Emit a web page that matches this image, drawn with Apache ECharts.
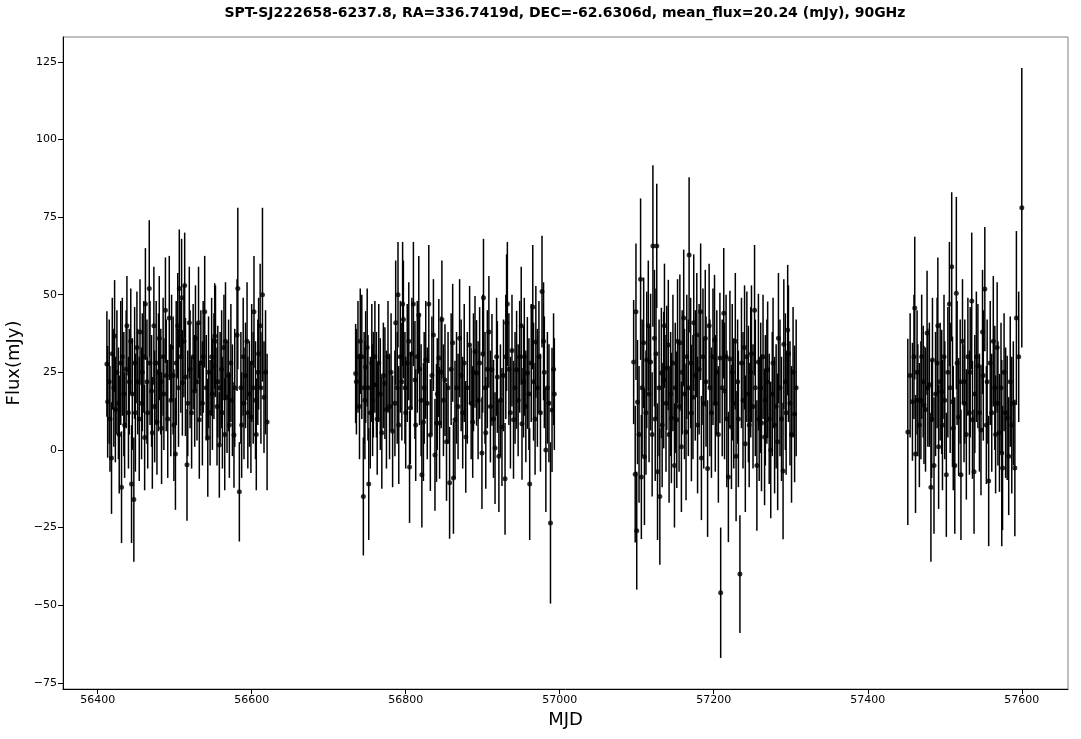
<!DOCTYPE html>
<html>
<head>
<meta charset="utf-8">
<script src="https://cdn.jsdelivr.net/npm/echarts@6/dist/echarts.min.js"></script>
<style>html,body{margin:0;padding:0;background:#fff;}#c{width:1081px;height:739px;}</style>
</head>
<body>
<div id="c"></div>
<script>
const titleText = 'SPT-SJ222658-6237.8, RA=336.7419d, DEC=-62.6306d, mean_flux=20.24 (mJy), 90GHz';
const xTicks = [56400, 56600, 56800, 57000, 57200, 57400, 57600];
const yTicks = [-75, -50, -25, 0, 25, 50, 75, 100, 125];

// Season 1
const mjd1 = [
56412,56413,56415,56416,56418,56419,56421,56422,56423,56425,
56427,56428,56430,56431,56432,56434,56435,56437,56438,56440,
56441,56443,56444,56445,56447,56448,56449,56451,56452,56454,
56455,56457,56458,56460,56461,56462,56464,56465,56467,56468,
56470,56471,56473,56474,56476,56477,56479,56480,56482,56483,
56485,56486,56488,56489,56491,56493,56495,56496,56498,56499,
56501,56502,56504,56505,56506,56508,56509,56510,
56512,56513,56514,56516,56517,56519,56520,56522,56524,56526,
56527,56529,56531,56532,56534,56536,56537,56539,56541,56543,
56544,56546,56548,56549,56551,56552,56553,56555,56556,56558,
56559,56561,56562,56564,56565,56566,56568,56570,56571,56573,
56575,56577,56578,56581,56582,56584,56586,56587,56589,56590,
56592,56594,56595,56597,56599,56600,56602,56603,56605,56606,
56608,56609,56611,56612,56614,56616,56618,56620];
const flux1 = [
27.7,15.5,22,10,-2.6,31,20,36.7,13,25,
15,5,28,-12,30,18,8,26,40,12,
22,35,-11,18,-16,28,12,33,22,10,
38,15,25,30,4,47,22,12,52,28,
19,5.5,40,14,28,9,25,36,22,7,
30,18,45,24,10,42.5,16,33,24,8,
-1.3,28,40,20,52,30,49,21.6,
35,53,23.5,-4.8,15,41,26,12,30,19,
36,22,41,9.7,28,15,30,44.5,20,3.9,
25,12,30,18,27,36.7,35,14,22,1.6,
20,26,12,33,5,35,17,24,8,28,
16,4.8,20,37,52,-13.5,20,8,30,15,
24,35,12,18,10.6,28,20,44.5,16,5,
25,31,40,20,50,17,25,9];
const err1 = [
17,18,20,17,18,18,19,18,17,20,
18,19,20,18,19,20,17,19,16,18,
17,17,19,18,20,18,19,18,17,20,
17,18,19,18,17,18,20,18,22,20,
18,18,19,18,20,17,19,20,17,18,
19,18,17,18,19,20,18,17,19,18,
18,20,17,19,19,18,19,17,
18,17,19,18,17,18,19,18,17,18,
17,19,18,19,17,20,18,18,17,19,
18,17,19,18,17,17,18,19,18,17,
18,19,18,17,18,19,18,18,17,19,
18,17,19,18,26,16,18,17,19,18,
17,19,18,17,18,19,18,18,19,18,
17,18,20,18,28,18,20,22];

// Season 2
const mjd2 = [
56735,56736,56738,56740,56741,56743,56745,56746,56747,56748,
56750,56751,56752,56754,56756,56757,56758,56760,56762,56763,
56765,56767,56769,56771,56773,56775,56777,56779,56781,56783,
56786,56787,56789,56790,56791,56793,56795,56796,56797,56799,
56800,56802,56804,56805,56806,56808,56810,56812,56813,56815,
56817,56818,56820,56821,56823,56824,56826,56828,56830,56832,
56834,56836,56838,56840,56841,56843,56844,56846,56847,56849,
56851,56853,56855,56857,56859,56861,56862,56864,56866,56868,
56870,56872,56874,56876,56878,56880,56883,56885,56887,56888,
56890,56892,56894,56896,56899,56900,56901,56903,56904,56906,
56908,56910,56912,56914,56916,56918,56919,56921,56923,56925,
56927,56929,56930,56931,56932,56934,56936,56938,56940,56942,
56944,56946,56948,56950,56951,56953,56954,56956,56958,56960,
56961,56963,56965,56966,56968,56969,56971,56973,56975,56977,
56979,56980,56982,56984,56986,56988,56990,56992,56993];
const flux2 = [
24.6,22,30,14,35,30,-15,20,16,26.7,
33,20,-11,12,28,16,21,30,21,10,
28,18,5.5,24,21.5,13,30,14,25,6,
15,41,20,50,8,30,22,47,42,20,
12,28,35,-5.5,13.5,31,47,22.5,8,30,
43.5,26,16,-8,9,20,29,15,47,4.8,
24,37,-1.6,8.7,18,29.6,8.7,25,42,16,
22.5,2.6,20,-10.6,26,34.5,-9,9.7,20,14,
36,24,12,28,4.2,20,33.8,15,9,25,
31.6,24.8,16,28,-1,31,49,20,5.5,26,
38,14,25.8,10,0.6,30,23.5,-2,16,7.4,
24,-9.3,30,41,47,26,12,32,9.7,20,
25.8,16,30,40,8.4,22,30,14,24.8,18,
-11,28,46,22,10,34.8,20,30,12,51,
35,25,0,20,15,-23.5,12.9,26,18];
const err2 = [
16,17,18,17,17,20,19,18,19,18,
19,17,18,18,19,18,17,18,17,18,
19,18,18,17,18,19,18,17,19,18,
17,20,18,17,19,18,19,20,19,18,
18,19,19,18,18,18,20,19,18,18,
19,18,18,17,19,18,19,18,19,18,
19,18,18,19,18,19,18,18,19,18,
18,19,18,18,18,19,18,19,18,17,
19,18,18,19,18,18,19,18,18,19,
18,17,19,18,18,19,19,18,18,19,
18,18,18,19,18,19,18,18,18,19,
18,18,20,22,20,18,18,18,19,18,
19,18,18,19,18,18,19,18,18,18,
18,19,20,19,18,18,19,18,19,18,
19,18,20,18,19,26,20,18,18];

// Season 3
const mjd3 = [
57096,57098,57099,57100,57101,57103,57105,57106,57107,57109,
57110,57112,57113,57115,57116,57118,57120,57121,57123,57124,
57125,57126,57127,57129,57130,57132,57133,57135,57136,57138,
57139,57141,57142,57144,57145,57147,57149,57150,57152,57153,
57155,57156,57158,57159,57161,57162,57164,57165,57167,57168,
57170,57171,57173,57174,57176,57178,57179,57181,57183,57184,
57186,57187,57189,57190,57192,57194,57195,57197,57199,57201,
57202,57204,57206,57208,57209,57211,57213,57214,57216,57217,
57219,57221,57223,57224,57226,57228,57229,57231,57232,57234,
57236,57238,57240,57241,57243,57245,57246,57248,57249,57251,
57253,57254,57256,57258,57259,57261,57262,57264,57266,57267,
57269,57270,57272,57274,57276,57277,57279,57281,57283,57284,
57286,57288,57290,57291,57293,57294,57296,57297,57299,57301,
57303,57305,57307];
const flux3 = [
28.3,-7.8,44.5,-26,15.4,5,55,-8.7,20,34.5,
-2.2,12,29,40,18,28.3,5,65.7,36,10,
31,65.7,-7,20,-15,24.8,8,22.5,40,15,
26.4,33.8,5,18,10.3,28,-5,20,9.7,35,
14,34.5,1,25,42.5,18,5.8,30,20,62.8,
28,11.9,17,41,24,37,8,26,44.5,-2.6,
30,15,36,22,-6,40,20,12,30,35.4,
15,25,5,29.6,-46,20,44,19,30,10,
-8.7,29.3,7.4,25,15,35,-2,22,10,-40,
28,16,33,2,30,18,8,25,31,14,
45,20,-5,28.3,10,20,8.7,30,4.2,16,
22,25.8,10,0,18,28,8,14,2.6,36,
20,10,-6.8,34,22,12,38.6,31,15,5,
25,11.6,20];
const err3 = [
20,22,22,19,20,22,26,20,22,21,
22,20,22,21,22,22,20,26,22,20,
21,20,22,22,22,21,20,22,20,22,
20,21,22,20,21,22,20,21,22,20,
21,22,21,20,22,21,22,20,22,25,
21,22,20,22,21,20,22,21,22,20,
22,21,22,21,22,20,22,21,22,21,
22,20,22,21,21,22,21,22,20,22,
21,22,20,22,21,22,21,20,22,19,
21,22,20,22,21,22,20,21,22,20,
21,22,21,22,20,21,22,20,22,21,
20,22,21,22,20,21,22,20,22,21,
22,20,22,21,22,20,21,22,20,22,
21,22,22];

// Season 4
const mjd4 = [
57452,57455,57458,57460,57461,57462,57464,57465,57467,57469,
57470,57472,57473,57475,57477,57478,57480,57482,57483,57484,
57486,57488,57490,57491,57492,57494,57496,57497,57499,57500,
57502,57504,57506,57507,57509,57510,57511,57513,57515,57516,
57518,57520,57521,57523,57525,57526,57528,57530,57532,57533,
57535,57536,57538,57539,57541,57543,57545,57547,57549,57550,
57552,57554,57555,57557,57559,57561,57563,57565,57566,57568,
57569,57571,57573,57574,57575,57577,57579,57581,57583,57585,
57587,57589,57591,57593,57596,57600];
const flux4 = [
5.8,24,15.5,30,45.7,-1.3,25,16,8,16,
30,22,14.5,13,37.7,20,21,-12,10,29,
-5,18,28,40,1,22,18.7,8,30,16,
-8,25,47,20,59,15.5,7,-5,50.5,28,
10.6,22,-8,35,15,22,5,30,12,25,
48,9.7,-7,18,30,27,12,6.4,38,24,
51.8,8,22,-10,28,12,35,20,5,33,
15,5.5,20,-1,-5.8,25,12,10.3,-2,22,
8,15,-5.8,42.5,30,78];
const err4 = [
30,20,19,20,23,19,20,18,20,19,
20,18,19,20,20,19,20,24,19,20,
22,20,21,22,20,19,20,21,20,19,
20,21,20,21,24,21,20,22,31,20,
19,20,21,20,19,20,21,19,20,21,
22,19,20,19,21,20,19,21,20,21,
20,19,20,21,20,19,21,20,19,21,
20,19,21,30,20,19,21,20,19,21,
22,20,22,28,21,45];

function build(m, f, e) {
  const out = [];
  for (let i = 0; i < m.length; i++) out.push([m[i], f[i], e[i]]);
  return out;
}
const points = [].concat(
  build(mjd1, flux1, err1),
  build(mjd2, flux2, err2),
  build(mjd3, flux3, err3),
  build(mjd4, flux4, err4)
);

const font = 'DejaVu Sans';
const fmt = v => String(v).replace('-', '\u2212');
const chart = echarts.init(document.getElementById('c'), null, {renderer: 'canvas'});
chart.setOption({
  animation: false,
  backgroundColor: '#fff',
  grid: {left: 63, right: 13, top: 37, bottom: 50, show: true, borderColor: '#808080', borderWidth: 1,
         backgroundColor: 'transparent', containLabel: false, outerBoundsMode: 'none'},
  graphic: [{
    type: 'text', x: 565, y: 13,
    style: {text: titleText, font: 'bold 14px "DejaVu Sans"', fill: '#000', align: 'center', verticalAlign: 'middle'}
  }],
  xAxis: {
    type: 'value', min: 56355, max: 57660,
    name: 'MJD', nameLocation: 'middle', nameGap: 22,
    nameTextStyle: {fontFamily: font, fontSize: 18, color: '#000'},
    axisLine: {show: true, onZero: false, lineStyle: {color: '#000', width: 1}},
    axisTick: {show: true, inside: false, length: 5, lineStyle: {color: '#000', width: 1}, customValues: xTicks},
    axisLabel: {fontFamily: font, fontSize: 11, color: '#000', margin: 6, customValues: xTicks, formatter: fmt},
    splitLine: {show: false}
  },
  yAxis: {
    type: 'value', min: -77, max: 133,
    name: 'Flux(mJy)', nameLocation: 'middle', nameGap: 39,
    nameTextStyle: {fontFamily: font, fontSize: 18, color: '#000'},
    axisLine: {show: true, onZero: false, lineStyle: {color: '#000', width: 1}},
    axisTick: {show: true, inside: false, length: 5, lineStyle: {color: '#000', width: 1}, customValues: yTicks},
    axisLabel: {fontFamily: font, fontSize: 11, color: '#000', margin: 6, customValues: yTicks, formatter: fmt},
    splitLine: {show: false}
  },
  series: [
    {
      type: 'custom',
      data: points,
      encode: {x: 0, y: 1},
      clip: true,
      renderItem: function (params, api) {
        const x = api.value(0), y = api.value(1), e = api.value(2);
        const p1 = api.coord([x, y - e]);
        const p2 = api.coord([x, y + e]);
        return {type: 'line', shape: {x1: p1[0], y1: p1[1], x2: p2[0], y2: p2[1]},
                style: {stroke: '#000', lineWidth: 1.5}};
      },
      z: 2
    },
    {
      type: 'scatter',
      data: points.map(p => [p[0], p[1]]),
      symbol: 'circle', symbolSize: 5,
      itemStyle: {color: '#000'},
      z: 3
    }
  ]
});
</script>
</body>
</html>
